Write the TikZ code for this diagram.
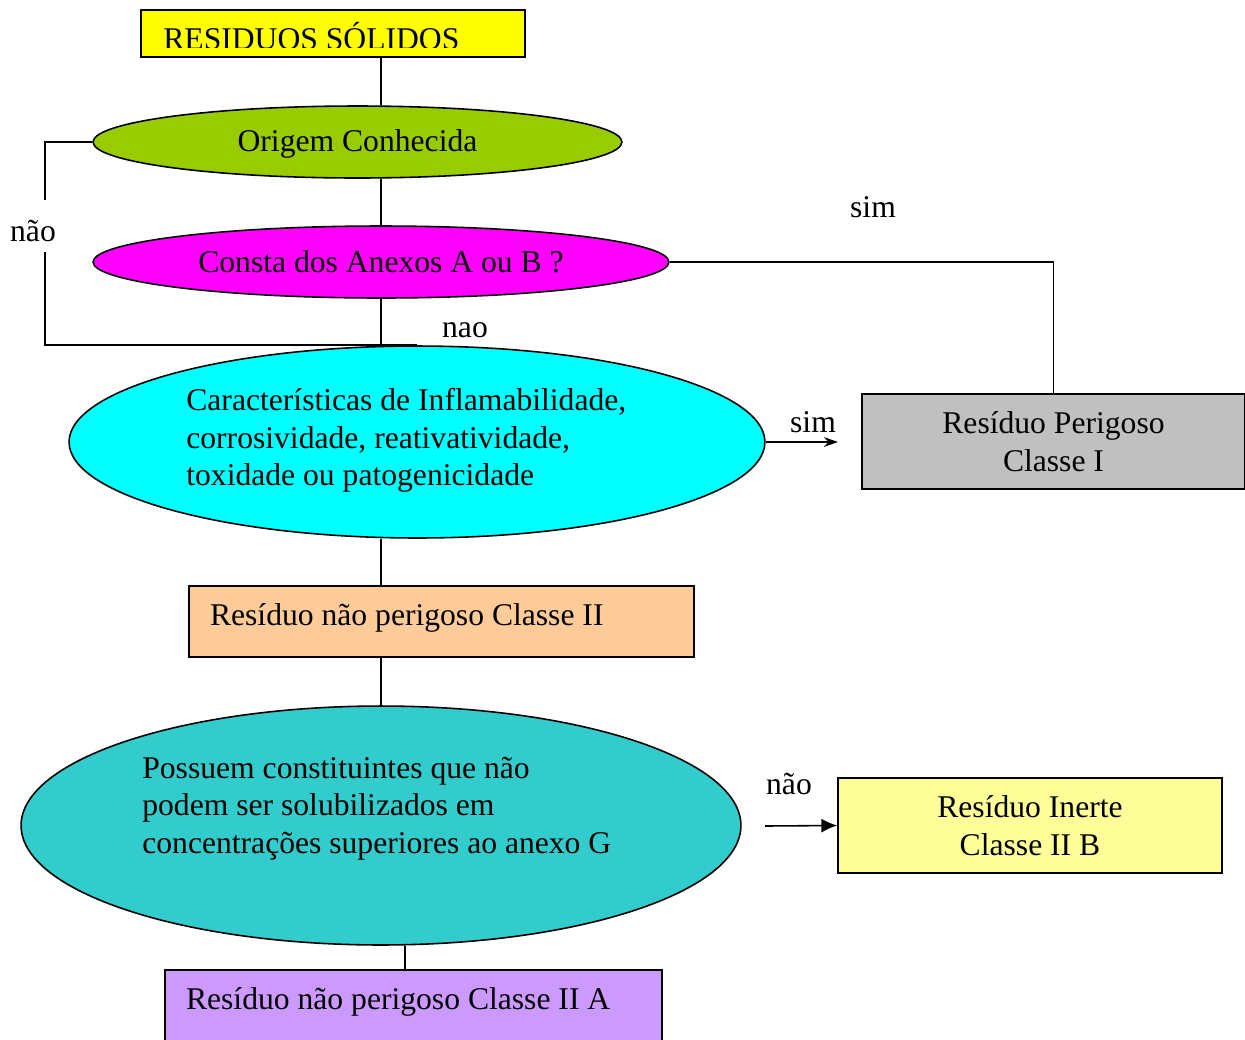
\documentclass[tikz,border=0pt]{standalone}
\usepackage{fontspec}
\setmainfont{Liberation Serif}
\usepackage{tikz}
\usetikzlibrary{shapes.geometric, arrows.meta, calc}
\definecolor{topyellow}{HTML}{FFFF00}
\definecolor{origgreen}{HTML}{99CC00}
\definecolor{anexomag}{HTML}{FF00FF}
\definecolor{caraccyan}{HTML}{00FFFF}
\definecolor{perigray}{HTML}{C0C0C0}
\definecolor{classpeach}{HTML}{FFCC99}
\definecolor{possteal}{HTML}{33CCCC}
\definecolor{inerteyellow}{HTML}{FFFF99}
\definecolor{classlilac}{HTML}{CC99FF}
\newcommand{\diagfont}{\fontsize{18}{21.3}\selectfont}
\tikzstyle{box} = [rectangle, draw=black, line width=0.9pt, inner sep=0pt]
\tikzstyle{decision} = [ellipse, draw=black, line width=0.9pt, inner sep=0pt]
\tikzstyle{word} = [inner sep=0pt]
\tikzstyle{line} = [line width=0.9pt]
\tikzstyle{arrow} = [line, -{Stealth[length=8pt,width=5.5pt]}]
\tikzstyle{arrowfill} = [line, -{Latex[length=9pt,width=8pt]}]

\begin{document}
\begin{tikzpicture}[x=0.02cm, y=-0.02cm, every node/.style={font=\diagfont}]
\useasboundingbox (0,0) rectangle (1245,1039);
\node (top) [box, fill=topyellow, minimum width=7.68cm, minimum height=0.94cm] at (333,33.5) {};
\begin{scope}
\clip (141,10) rectangle (525,47);
\node (toptext) [word, anchor=base west] at (163,49) {RESIDUOS SÓLIDOS};
\end{scope}
\node (orig) [decision, fill=origgreen, minimum width=10.58cm, minimum height=1.44cm, text height=15pt] at (357.5,142) {Origem Conhecida};
\node (consta) [decision, fill=anexomag, minimum width=11.52cm, minimum height=1.44cm] at (381,262) {Consta dos Anexos A ou B ?};
\node (carac) [decision, fill=caraccyan, minimum width=13.92cm, minimum height=3.84cm] at (417,442) {};
\node (caractext) [word, anchor=west, align=left] at (186,440.5) {Características de Inflamabilidade,\\corrosividade, reativatividade,\\toxidade ou patogenicidade};
\node (perig) [box, fill=perigray, minimum width=7.66cm, minimum height=1.9cm, align=center] at (1053.5,441.5) {Resíduo Perigoso\\Classe I};
\node (classe2) [box, fill=classpeach, minimum width=10.1cm, minimum height=1.42cm, text width=9.26cm, inner xsep=0.42cm, text depth=8pt, align=flush left] at (441.5,621.5) {Resíduo não perigoso Classe II};
\node (poss) [decision, fill=possteal, minimum width=14.4cm, minimum height=4.78cm] at (381,825.5) {};
\node (posstext) [word, anchor=west, align=left] at (142,808.5) {Possuem constituintes que não\\podem ser solubilizados em\\concentrações superiores ao anexo G};
\node (inerte) [box, fill=inerteyellow, minimum width=7.68cm, minimum height=1.9cm, align=center] at (1030,825.5) {Resíduo Inerte\\Classe II B};
\node (classe2a) [box, fill=classlilac, minimum width=9.94cm, minimum height=1.44cm, text width=9.1cm, inner xsep=0.42cm, text depth=8pt, align=flush left] at (413.5,1006) {Resíduo não perigoso Classe II A};

% labels
\node (naoleft) [word, minimum height=1.04cm] at (33,231) {não};
\node (naomid) [word] at (465,330) {nao};
\node (simtop) [word] at (873,207) {sim};
\node (simmid) [word] at (813,422) {sim};
\node (naolow) [word] at (789,784) {não};

% connectors
\draw [line] (top.south -| consta) -- (orig.north -| consta);
\draw [line] (orig.south -| consta) -- (consta.north);
\draw [line] (consta.south) -- (carac.north -| consta);
\draw [line] (orig.west) -| ($(naoleft.north)+(12,-5)$);
\draw [line] ($(naoleft.south)+(12,-5)$) |- (carac.north);
\draw [line] (consta.east) -| (perig.north);
\coordinate (simend) at (838,442);
\draw [arrow] (carac.east) -- (simend);
\draw [line] (carac.south -| consta) -- (classe2.north -| consta);
\draw [line] (classe2.south -| consta) -- (poss.north);
\coordinate (naostart) at (765,826);
\draw [arrowfill] (naostart) -- (inerte.west);
\draw [line] ($(poss.south)+(24,0)$) -- ($(classe2a.north)+(-8.5,0)$);
\end{tikzpicture}
\end{document}
